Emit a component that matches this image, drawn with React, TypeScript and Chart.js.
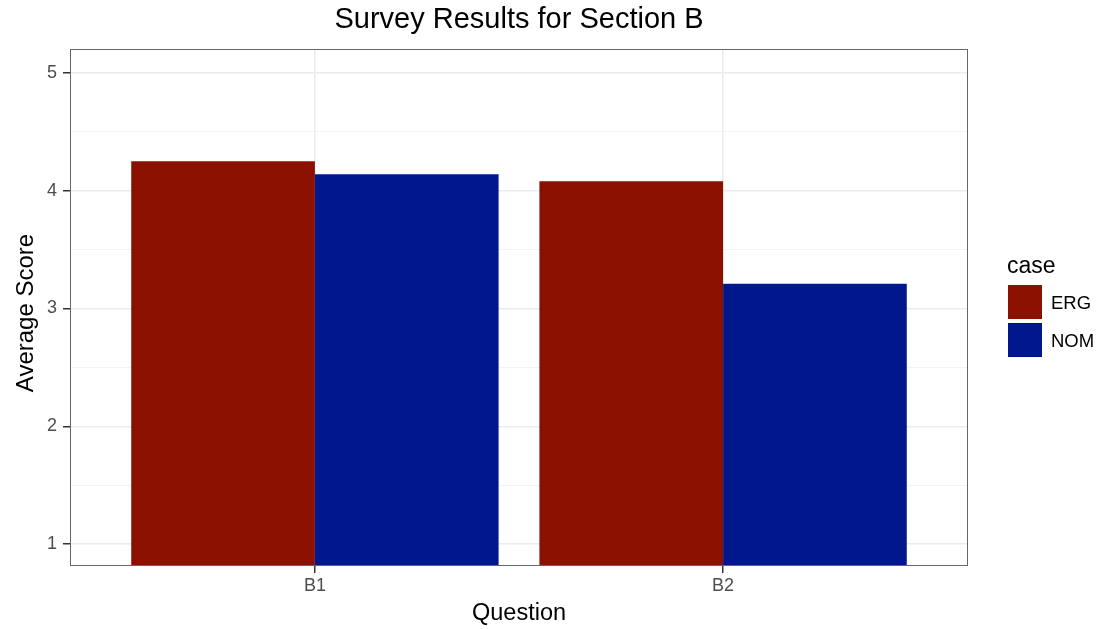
import React, { useEffect, useRef } from "react";
import { Chart, registerables } from "chart.js";

Chart.register(...registerables);

const categories = ["B1", "B2"];
const seriesNames = ["ERG", "NOM"];
const ergValues = [4.25, 4.08];
const nomValues = [4.14, 3.21];
const yTickValues = [1, 1.5, 2, 2.5, 3, 3.5, 4, 4.5, 5];
const titleText = "Survey Results for Section B";
const xTitle = "Question";
const yTitle = "Average Score";
const legendTitle = "case";

const COLORS = ["#8A1000", "#00188C"];
const FONT = "'Liberation Sans', Arial, Helvetica, sans-serif";

const overlayPlugin = {
  id: "ggOverlay",
  afterDraw(chart: any) {
    const { ctx, chartArea } = chart;
    const { left, right, top, bottom } = chartArea;
    ctx.save();
    // panel border
    ctx.strokeStyle = "#666666";
    ctx.lineWidth = 1;
    ctx.strokeRect(Math.round(left) + 0.5, Math.round(top) + 0.5, Math.round(right - left) - 1, Math.round(bottom - top) - 1);
    const cx = (left + right) / 2;
    // title
    ctx.fillStyle = "#000";
    ctx.textAlign = "center";
    ctx.textBaseline = "alphabetic";
    ctx.font = `29px ${FONT}`;
    ctx.fillText(titleText, cx, 28);
    // x title
    ctx.font = `23.5px ${FONT}`;
    ctx.fillText(xTitle, cx, 620);
    // y title
    ctx.save();
    ctx.translate(33, 313);
    ctx.rotate(-Math.PI / 2);
    ctx.font = `24px ${FONT}`;
    ctx.fillText(yTitle, 0, 0);
    ctx.restore();
    // legend
    ctx.textAlign = "left";
    ctx.font = `23px ${FONT}`;
    ctx.fillText(legendTitle, 1007, 273);
    ctx.font = `18.5px ${FONT}`;
    const keyTops = [284, 322];
    const baselines = [309, 347];
    seriesNames.forEach((name, i) => {
      ctx.fillStyle = COLORS[i];
      ctx.fillRect(1007, keyTops[i], 36, 36);
      ctx.strokeStyle = "#ffffff";
      ctx.lineWidth = 1;
      ctx.strokeRect(1007.5, keyTops[i] + 0.5, 35, 35);
      ctx.fillStyle = "#000";
      ctx.fillText(name, 1051, baselines[i]);
    });
    ctx.restore();
  },
};

export default function App() {
  const canvasRef = useRef<HTMLCanvasElement>(null);

  useEffect(() => {
    if (!canvasRef.current) return;
    const chart = new Chart(canvasRef.current, {
      type: "bar",
      data: {
        datasets: [
          {
            label: seriesNames[0],
            data: ergValues.map((v, i) => ({ x: i + 1, y: v })),
            backgroundColor: COLORS[0],
            borderWidth: 0,
            categoryPercentage: 0.9,
            barPercentage: 1.0,
          },
          {
            label: seriesNames[1],
            data: nomValues.map((v, i) => ({ x: i + 1, y: v })),
            backgroundColor: COLORS[1],
            borderWidth: 0,
            categoryPercentage: 0.9,
            barPercentage: 1.0,
          },
        ],
      },
      options: {
        animation: false,
        responsive: false,
        devicePixelRatio: 1,
        layout: { padding: { top: 49, right: 134, left: 0, bottom: 0 } },
        plugins: {
          legend: { display: false },
          title: { display: false },
          tooltip: { enabled: false },
        },
        scales: {
          x: {
            type: "linear",
            min: 0.4,
            max: 2.6,
            offset: false,
            afterBuildTicks: (scale: any) => {
              scale.ticks = categories.map((_, i) => ({ value: i + 1 }));
            },
            afterFit: (scale: any) => {
              scale.height = 63;
            },
            ticks: {
              callback: (v: any) => categories[Math.round(Number(v)) - 1] ?? "",
              color: "#4D4D4D",
              font: { family: FONT, size: 18 },
              padding: 2,
              maxRotation: 0,
              autoSkip: false,
            },
            grid: {
              offset: false,
              color: "#EBEBEB",
              lineWidth: 1.5,
              tickLength: 7,
              tickColor: "#333333",
              tickWidth: 1.5,
            },
            border: { display: false },
          },
          y: {
            type: "linear",
            min: 0.814,
            max: 5.203,
            afterBuildTicks: (scale: any) => {
              scale.ticks = yTickValues.map((v) => ({ value: v }));
            },
            afterFit: (scale: any) => {
              scale.width = 70;
            },
            ticks: {
              callback: (v: any) => (Number.isInteger(Number(v)) ? String(v) : ""),
              color: "#4D4D4D",
              font: { family: FONT, size: 18 },
              padding: 6,
              autoSkip: false,
            },
            grid: {
              color: (c: any) => (Number.isInteger(c.tick?.value) ? "#EBEBEB" : "#F3F3F3"),
              lineWidth: (c: any) => (Number.isInteger(c.tick?.value) ? 1.5 : 1),
              tickLength: 7,
              tickColor: (c: any) => (Number.isInteger(c.tick?.value) ? "#333333" : "rgba(0,0,0,0)"),
              tickWidth: 1.5,
            },
            border: { display: false },
          },
        },
      },
      plugins: [overlayPlugin],
    } as any);
    return () => chart.destroy();
  }, []);

  return (
    <div style={{ position: "fixed", left: 0, top: 0, width: 1102, height: 629, background: "#fff" }}>
      <canvas ref={canvasRef} width={1102} height={629} style={{ width: 1102, height: 629, display: "block" }} />
    </div>
  );
}
